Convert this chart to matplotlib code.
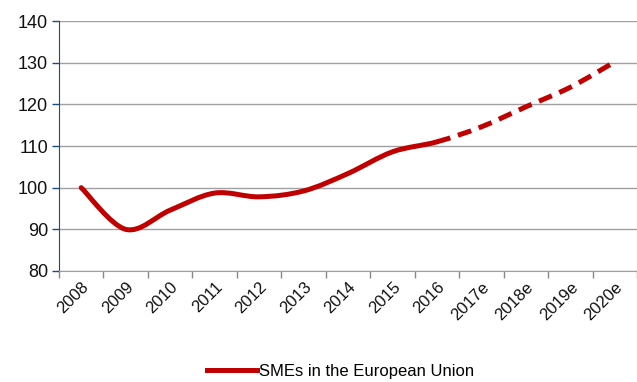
import numpy as np
import matplotlib.pyplot as plt
from matplotlib.path import Path
from matplotlib.patches import PathPatch
from matplotlib.lines import Line2D

plt.rcParams['font.family'] = ['Liberation Sans', 'DejaVu Sans']

years = ['2008', '2009', '2010', '2011', '2012', '2013', '2014', '2015', '2016',
         '2017e', '2018e', '2019e', '2020e']
sme_index = [100, 90, 94.6, 98.7, 97.8, 99.2, 103.4, 108.6, 111,
             114.6, 119.4, 124.1, 130.2]
n_actual = 9  # 2008-2016 are actuals, the rest are estimates

RED = '#C00000'


def smooth_path(xs, ys):
    # Catmull-Rom style bezier segments, like spreadsheet "smoothed line"
    xs = np.asarray(xs, float)
    ys = np.asarray(ys, float)
    pts = np.column_stack([xs, ys])
    verts = [pts[0]]
    codes = [Path.MOVETO]
    for i in range(len(pts) - 1):
        p0 = pts[i - 1] if i > 0 else pts[i]
        p1, p2 = pts[i], pts[i + 1]
        p3 = pts[i + 2] if i + 2 < len(pts) else pts[i + 1]
        c1 = p1 + (p2 - p0) / 6
        c2 = p2 - (p3 - p1) / 6
        verts += [c1, c2, p2]
        codes += [Path.CURVE4] * 3
    return Path(verts, codes)


fig = plt.figure(figsize=(6.37, 3.82), dpi=100)
ax = fig.add_axes([0.0926, 0.2906, 0.9074, 0.6544])

x = np.arange(len(years))
full = smooth_path(x, sme_index)
# split the bezier path into actual and estimate parts
seg_end = 1 + 3 * (n_actual - 1)
actual = Path(full.vertices[:seg_end], full.codes[:seg_end])
est = Path(full.vertices[seg_end - 1:], [Path.MOVETO] + list(full.codes[seg_end:]))

ax.add_patch(PathPatch(actual, fill=False, edgecolor=RED, lw=3.6,
                       capstyle='round', joinstyle='round', zorder=3))
ax.add_patch(PathPatch(est, fill=False, edgecolor=RED, lw=3.6,
                       linestyle=(0, (2.8, 1.6)), capstyle='butt', zorder=3))

ax.set_xlim(-0.5, len(years) - 0.5)
ax.set_ylim(80, 140)
ax.set_yticks(range(80, 141, 10))
ax.set_xticks(x)
ax.set_xticklabels(years, rotation=45, ha='right', rotation_mode='anchor',
                   fontsize=12, color='#111111')
ax.set_xticks(np.arange(-0.5, len(years)), minor=True)
ax.tick_params(axis='x', which='major', length=0, pad=6)
ax.tick_params(axis='x', which='minor', length=5, color='#888888', width=1)
ax.tick_params(axis='y', length=5, color='#1F497D', width=1, labelsize=13,
               labelcolor='#111111', pad=3)

ax.grid(axis='y', color='#A0A0A0', lw=1)
ax.set_axisbelow(True)
for s in ['top', 'right']:
    ax.spines[s].set_visible(False)
ax.spines['left'].set_color('#1F497D')
ax.spines['bottom'].set_color('#A0A0A0')

handle = Line2D([], [], color=RED, lw=3.6)
fig.legend([handle], ['SMEs in the European Union'], loc='center',
           bbox_to_anchor=(0.535, 0.027), frameon=False, fontsize=12,
           handlelength=3.0, handletextpad=0.1)

fig.savefig('out.png', dpi=100)
